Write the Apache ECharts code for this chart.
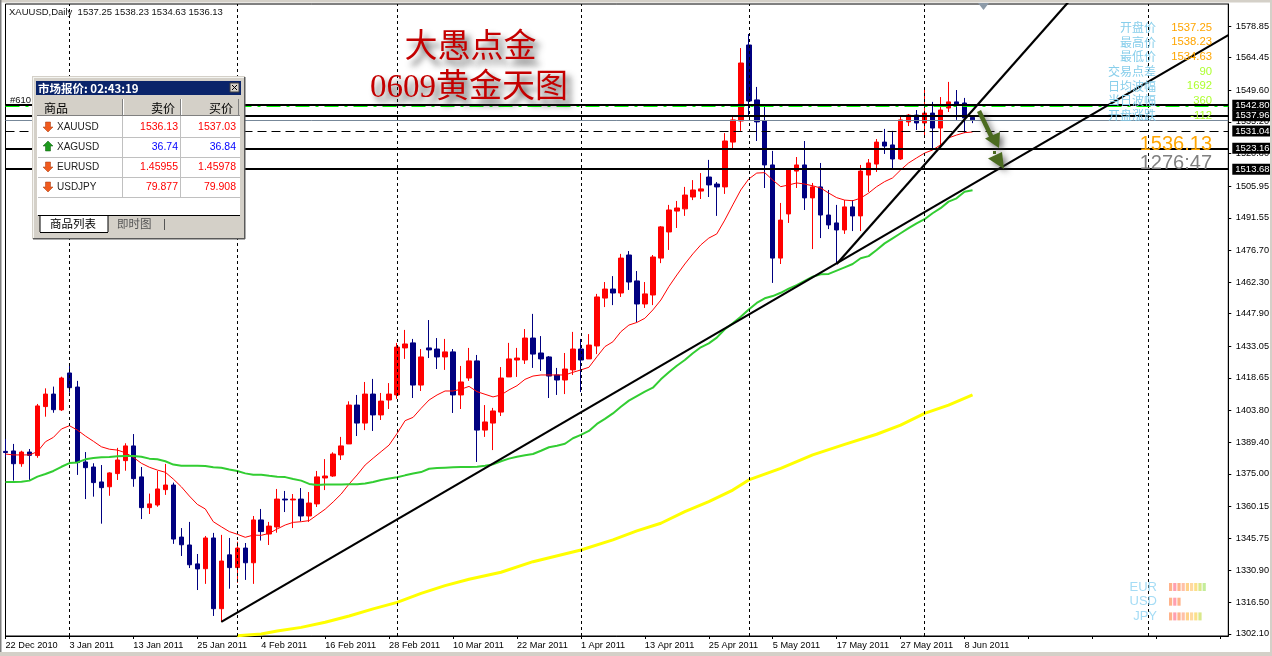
<!DOCTYPE html>
<html><head><meta charset="utf-8">
<script src="https://cdn.jsdelivr.net/npm/echarts@6/dist/echarts.min.js"></script>
<style>html,body{margin:0;padding:0;background:#fff}#c{width:1272px;height:656px}</style>
</head><body><div id="c"></div>
<script>
const dates=['22 Dec 2010','23 Dec 2010','24 Dec 2010','27 Dec 2010','28 Dec 2010','29 Dec 2010','30 Dec 2010','31 Dec 2010',
'3 Jan 2011','4 Jan 2011','5 Jan 2011','6 Jan 2011','7 Jan 2011','10 Jan 2011','11 Jan 2011','12 Jan 2011',
'13 Jan 2011','14 Jan 2011','17 Jan 2011','18 Jan 2011','19 Jan 2011','20 Jan 2011','21 Jan 2011','24 Jan 2011',
'25 Jan 2011','26 Jan 2011','27 Jan 2011','28 Jan 2011','31 Jan 2011','1 Feb 2011','2 Feb 2011','3 Feb 2011',
'4 Feb 2011','7 Feb 2011','8 Feb 2011','9 Feb 2011','10 Feb 2011','11 Feb 2011','14 Feb 2011','15 Feb 2011',
'16 Feb 2011','17 Feb 2011','18 Feb 2011','21 Feb 2011','22 Feb 2011','23 Feb 2011','24 Feb 2011','25 Feb 2011',
'28 Feb 2011','1 Mar 2011','2 Mar 2011','3 Mar 2011','4 Mar 2011','7 Mar 2011','8 Mar 2011','9 Mar 2011',
'10 Mar 2011','11 Mar 2011','14 Mar 2011','15 Mar 2011','16 Mar 2011','17 Mar 2011','18 Mar 2011','21 Mar 2011',
'22 Mar 2011','23 Mar 2011','24 Mar 2011','25 Mar 2011','28 Mar 2011','29 Mar 2011','30 Mar 2011','31 Mar 2011',
'1 Apr 2011','4 Apr 2011','5 Apr 2011','6 Apr 2011','7 Apr 2011','8 Apr 2011','11 Apr 2011','12 Apr 2011',
'13 Apr 2011','14 Apr 2011','15 Apr 2011','18 Apr 2011','19 Apr 2011','20 Apr 2011','21 Apr 2011','22 Apr 2011',
'25 Apr 2011','26 Apr 2011','27 Apr 2011','28 Apr 2011','29 Apr 2011','2 May 2011','3 May 2011','4 May 2011',
'5 May 2011','6 May 2011','9 May 2011','10 May 2011','11 May 2011','12 May 2011','13 May 2011','16 May 2011',
'17 May 2011','18 May 2011','19 May 2011','20 May 2011','23 May 2011','24 May 2011','25 May 2011','26 May 2011',
'27 May 2011','30 May 2011','31 May 2011','1 Jun 2011','2 Jun 2011','3 Jun 2011','6 Jun 2011','7 Jun 2011',
'8 Jun 2011','9 Jun 2011'];
const futureSlots=32;
const opens=[1385.2,1385.4,1379.6,1384.9,1383.3,1405.6,1411.3,1404.1,1420.9,1414.5,
1380.4,1378.1,1371.3,1369.1,1375.1,1381.0,1387.7,1373.6,1359.6,1360.8,
1367.8,1369.9,1346.2,1342.6,1334.0,1331.8,1345.8,1313.6,1338.1,1332.3,
1341.2,1334.5,1354.0,1347.6,1350.8,1363.5,1363.1,1363.5,1355.8,1361.3,
1373.1,1374.0,1383.6,1388.6,1406.3,1398.1,1411.3,1401.8,1408.6,1410.9,
1432.3,1434.6,1415.4,1432.3,1431.8,1428.2,1430.5,1410.9,1418.6,1426.4,
1394.9,1398.1,1403.1,1419.1,1426.8,1426.8,1436.8,1430.0,1428.2,1420.0,
1417.7,1422.3,1431.8,1427.3,1433.2,1455.0,1459.1,1457.3,1474.6,1462.8,
1452.3,1456.4,1473.2,1485.1,1494.6,1495.6,1501.0,1503.7,1510.1,1506.9,
1505.6,1526.0,1535.6,1570.2,1545.2,1535.6,1515.6,1473.2,1493.3,1512.8,
1515.6,1500.6,1505.6,1492.8,1489.2,1486.0,1496.5,1492.4,1511.0,1516.0,
1526.0,1524.7,1518.3,1535.2,1538.3,1534.7,1539.2,1532.4,1541.5,1544.3,
1543.8,1537.25];
const closes=[1384.7,1379.6,1384.9,1383.4,1405.9,1411.3,1404.2,1418.6,1414.2,1380.1,
1377.8,1371.0,1368.7,1375.4,1381.3,1387.7,1372.8,1359.6,1361.3,1368.1,
1369.9,1345.3,1342.7,1333.6,1331.7,1345.8,1313.6,1335.3,1332.3,1341.2,
1334.5,1354.0,1348.7,1351.2,1363.5,1363.1,1363.5,1355.8,1361.7,1373.6,
1374.0,1384.0,1387.7,1406.3,1398.1,1411.3,1401.8,1408.1,1411.3,1432.7,
1434.1,1415.4,1428.2,1431.4,1428.2,1430.5,1410.9,1416.8,1426.4,1394.9,
1398.6,1403.6,1418.6,1427.3,1427.7,1436.8,1429.5,1427.3,1419.5,1417.7,
1422.7,1431.8,1426.8,1433.6,1455.5,1459.1,1457.3,1473.2,1462.3,1452.3,
1456.9,1473.7,1487.4,1495.1,1496.0,1501.9,1504.2,1504.7,1506.5,1505.6,
1526.5,1536.1,1562.0,1544.7,1535.2,1515.6,1473.2,1490.5,1513.8,1515.6,
1500.6,1505.6,1492.8,1488.3,1486.0,1496.5,1492.4,1512.8,1516.5,1526.0,
1524.2,1518.3,1536.1,1538.3,1534.7,1539.2,1532.4,1540.6,1544.3,1543.3,
1537.0,1536.13];
const highs=[1390.9,1388.6,1385.5,1386.3,1406.8,1413.9,1414.7,1419.2,1425.0,1417.3,
1384.9,1379.8,1379.0,1375.7,1386.8,1388.9,1393.1,1378.1,1366.0,1376.3,
1379.5,1371.0,1350.3,1353.1,1338.5,1346.7,1348.1,1347.2,1345.8,1344.1,
1343.5,1355.8,1359.0,1353.1,1368.1,1367.2,1365.8,1368.5,1366.7,1376.3,
1381.7,1384.8,1391.8,1408.0,1410.9,1416.8,1418.2,1411.8,1416.3,1434.6,
1440.5,1436.4,1431.8,1445.0,1436.8,1436.4,1431.8,1424.1,1432.3,1429.1,
1406.3,1405.0,1423.6,1434.6,1432.3,1440.9,1447.8,1437.7,1428.6,1423.2,
1430.0,1439.6,1436.4,1438.6,1456.9,1462.3,1465.0,1475.1,1476.4,1467.3,
1462.3,1474.6,1487.8,1497.4,1499.2,1505.6,1508.7,1511.9,1517.9,1507.8,
1530.1,1538.3,1568.8,1575.2,1551.1,1542.4,1522.0,1498.3,1513.8,1519.2,
1526.5,1507.4,1516.5,1504.2,1497.4,1499.6,1499.6,1515.6,1518.3,1527.4,
1532.0,1531.1,1537.9,1538.8,1540.6,1550.2,1544.3,1546.5,1553.4,1549.7,
1546.1,1538.23];
const lows=[1382.7,1371.9,1378.2,1371.7,1382.3,1401.0,1402.8,1403.6,1411.9,1374.5,
1363.5,1364.6,1352.3,1365.0,1372.2,1376.4,1369.1,1354.4,1356.7,1360.0,
1365.4,1343.1,1337.6,1332.1,1322.1,1324.9,1310.3,1307.6,1322.7,1325.4,
1326.7,1324.9,1344.6,1342.6,1348.2,1357.6,1350.3,1353.4,1353.1,1359.9,
1367.6,1373.6,1381.3,1388.6,1392.2,1394.9,1394.5,1399.5,1404.5,1409.1,
1427.3,1409.5,1412.7,1427.7,1422.7,1422.3,1402.7,1404.5,1417.3,1380.4,
1391.8,1385.8,1401.3,1419.1,1419.1,1425.0,1423.2,1421.8,1409.5,1410.9,
1411.3,1420.0,1412.2,1427.3,1429.5,1450.9,1451.8,1455.5,1458.7,1444.1,
1450.5,1451.8,1470.9,1476.9,1486.9,1492.4,1499.6,1500.1,1501.0,1492.4,
1502.4,1523.3,1531.1,1537.9,1526.5,1505.1,1461.9,1470.5,1489.2,1505.1,
1495.1,1477.3,1482.3,1486.4,1470.5,1484.2,1485.5,1485.5,1503.3,1512.4,
1520.6,1514.2,1517.9,1533.3,1531.5,1528.8,1523.3,1523.3,1539.7,1536.1,
1530.1,1534.63];
const maFast=[1384.0,1383.6,1383.6,1383.6,1385.1,1389.6,1391.6,1395.4,1396.9,1394.9,
1392.2,1389.8,1387.3,1386.2,1385.8,1384.6,1382.5,1379.8,1378.0,1376.7,
1375.7,1372.6,1369.1,1364.9,1361.1,1359.0,1353.2,1350.9,1348.7,1347.5,
1346.1,1347.1,1347.0,1347.9,1349.9,1351.7,1352.9,1353.2,1353.7,1356.3,
1358.9,1362.2,1365.8,1370.4,1374.5,1379.0,1382.1,1385.1,1388.1,1393.4,
1399.2,1400.7,1404.8,1408.6,1410.9,1412.7,1412.7,1413.5,1414.8,1412.4,
1411.2,1410.0,1410.9,1413.2,1415.1,1418.0,1419.5,1420.0,1420.0,1420.0,
1420.0,1421.2,1422.3,1423.5,1428.3,1432.9,1435.1,1439.7,1442.7,1443.9,
1445.8,1449.6,1454.1,1460.2,1465.5,1470.5,1475.1,1479.2,1482.3,1484.2,
1490.5,1497.4,1504.2,1509.2,1511.9,1512.1,1508.7,1505.7,1506.5,1507.4,
1506.9,1506.1,1505.1,1502.8,1500.7,1499.6,1499.3,1500.5,1502.8,1505.7,
1508.0,1509.7,1513.3,1516.5,1518.8,1521.0,1522.4,1524.7,1527.9,1529.2,
1530.3,1530.6];
const maMid=[1371.3,1371.3,1371.4,1371.9,1373.7,1374.9,1376.3,1378.2,1379.9,1380.2,
1381.6,1382.2,1382.5,1382.7,1383.0,1383.1,1383.1,1382.8,1381.9,1381.6,
1380.7,1379.2,1378.7,1378.7,1378.7,1378.6,1378.0,1377.8,1377.0,1376.3,
1375.2,1374.6,1374.6,1374.1,1373.7,1373.5,1372.6,1371.9,1370.4,1369.9,
1370.1,1370.1,1370.1,1370.2,1370.2,1370.6,1371.3,1372.2,1372.9,1373.4,
1374.3,1375.1,1375.8,1377.3,1377.6,1377.8,1378.0,1378.1,1378.1,1378.2,
1378.7,1379.3,1380.7,1381.9,1382.8,1383.4,1384.0,1385.5,1387.1,1387.8,
1388.7,1391.2,1392.7,1394.5,1397.7,1400.0,1402.5,1405.5,1408.3,1410.4,
1412.4,1414.2,1418.0,1421.2,1424.2,1426.8,1429.9,1432.6,1434.4,1437.0,
1440.8,1443.5,1446.5,1449.8,1452.8,1454.9,1455.9,1457.4,1459.3,1460.9,
1462.8,1464.7,1465.8,1466.0,1467.5,1469.0,1470.5,1473.1,1474.1,1476.9,
1479.9,1482.2,1484.5,1486.8,1489.0,1490.9,1493.6,1495.9,1498.9,1500.4,
1503.4,1504.1];
const maSlowBars=[29,32,34,37,40,43,46,49,52,55,58,62,66,72,76,79,82,85,88,91,93,97,101,105,109,112,115,118,121];
const maSlowVals=[1301.3,1302.1,1303.4,1305.1,1307.4,1310.3,1313.5,1316.5,1320.6,1324.1,1327.0,1330.2,1335.0,1340.3,1344.9,1349.0,1352.5,1357.8,1362.3,1367.6,1372.2,1377.5,1383.6,1388.4,1393.0,1397.2,1402.5,1406.3,1410.9];
const trendA=[[27,1307.6],[153,1574.7]];
const trendB=[[104,1470.5],[134,1593.9]];
const monthBars=[8,29,49,72,93,115,143];
const levels=[1542.80,1537.96,1523.16,1513.68];
const dashLevel=1531.04;
const greenLevel=1542.4;
const bidLevel=1536.13;
const yTicks=[1578.85,1564.45,1549.60,1535.20,1520.80,1505.95,1491.55,1476.70,1462.30,1447.90,1433.05,1418.65,1403.80,1389.40,1375.00,1360.15,1345.75,1330.90,1316.50,1302.10];
const yMin=1301.17,yMax=1588.86;
const headerText='XAUUSD,Daily  1537.25 1538.23 1534.63 1536.13';
const quoteSymbols=['XAUUSD','XAGUSD','EURUSD','USDJPY'];
const quoteBids=['1536.13','36.74','1.45955','79.877'];
const quoteAsks=['1537.03','36.84','1.45978','79.908'];
const quoteUp=[false,true,false,false];
const infoLabels=['开盘价','最高价','最低价','交易点差','日均波幅','当日波幅','开盘涨跌'];
const infoValues=['1537.25','1538.23','1534.63','90','1692','360','-112'];
const strengthNames=['EUR','USD','JPY'];
const strengthBlocks=[9,3,8];

const SANS='"Liberation Sans",Arial,sans-serif', CJK='"Noto Sans CJK SC",sans-serif', SERIF='"Liberation Serif","Noto Sans CJK SC",serif';
const chart=echarts.init(document.getElementById('c'),null,{renderer:'canvas'});
const g=[];
function rect(x,y,w,h,fill,extra){g.push({type:'rect',z:100,silent:true,shape:{x,y,width:w,height:h},style:Object.assign({fill},extra||{})});}
function poly(pts,fill,extra){g.push({type:'polygon',z:100,silent:true,shape:{points:pts},style:Object.assign({fill},extra||{})});}
function line(x1,y1,x2,y2,c,w){g.push({type:'line',z:101,silent:true,shape:{x1,y1,x2,y2},style:{stroke:c,lineWidth:w||1}});}
function txt(x,y,t,o){g.push({type:'text',z:102,silent:true,x,y,style:Object.assign({text:t,fill:'#000',font:'11px '+SANS,align:'left',verticalAlign:'middle'},o||{})});}

// outer terminal frame
rect(0,0,1272,2.5,'#d4d0c8');rect(0,0,1.5,656,'#808080');rect(0,652,1272,4,'#d4d0c8');rect(1270,0,2,656,'#d4d0c8');

// header + chart id
txt(9,12,headerText,{font:'9.5px '+SANS,fill:'#111'});
txt(10,100,'#610',{font:'9.5px '+SANS,fill:'#111'});

// title
const shadow={textShadowColor:'rgba(50,50,50,0.8)',textShadowBlur:6,textShadowOffsetX:5,textShadowOffsetY:6};
txt(470.5,48,'大愚点金',Object.assign({font:'33px '+SERIF,fill:'#c40000',align:'center'},shadow));
txt(469,88,'0609黄金天图',Object.assign({font:'33px '+SERIF,fill:'#c40000',align:'center'},shadow));

// arrows
const arrowFx={shadowColor:'rgba(60,60,60,0.7)',shadowBlur:6,shadowOffsetX:3,shadowOffsetY:3};
poly([[977,112],[981,110],[995,139],[991,141]],'#4b6b20',arrowFx);
poly([[985,138.5],[1000,132],[999,148]],'#4b6b20',arrowFx);
poly([[993,151],[996,151],[996,154],[993,154]],'#4b6b20',arrowFx);
poly([[988,158.5],[1002,152],[1004,169]],'#4b6b20',arrowFx);
// shift marker
poly([[978,3],[989,3],[983.5,10]],'#8c9aa8');

// info panel
infoLabels.forEach((t,i)=>{const y=27.5+i*14.65;
  txt(1156,y,t,{font:'12px '+CJK,fill:'#87ceeb',align:'right'});
  txt(1212,y,infoValues[i],{font:'11.3px '+SANS,fill:i<3?'#ffa500':'#adff2f',align:'right'});
});
txt(1212,144,'1536.13',{font:'20px '+SANS,fill:'#ffa500',align:'right'});
txt(1212,163,'1276:47',{font:'20px '+SANS,fill:'#808080',align:'right'});

// currency strength
const blockCols=['#ffb38a','#ff9fb0','#ffb38a','#ffc0a8','#ffd28a','#ffd9a0','#fbe08a','#d9e88a','#c4ec9a'];
strengthNames.forEach((n,i)=>{const y=587+i*14.7;
  txt(1157,y,n,{font:'13px '+SANS,fill:'#a5dcf5',align:'right'});
  for(let b=0;b<strengthBlocks[i];b++) rect(1169+b*4.2,y-4,3.2,8,blockCols[b]);
});

// market watch window
rect(32,76,213,163,'#d4d0c8',{stroke:null});
rect(244,77,1.5,162,'#5a5a5a');rect(33,238,212,1.5,'#5a5a5a');
rect(33,77,1,161,'#f4f4f0');rect(33,77,211,1,'#f4f4f0');
rect(36,81,205,14,'#0a246a');
txt(38,88.2,'市场报价: 02:43:19',{font:'bold 11.5px '+CJK,fill:'#fff'});
rect(230,83,9,9,'#d4d0c8',{stroke:'#404040',lineWidth:1});
line(232,85,237,90,'#000');line(237,85,232,90,'#000');
rect(37,99,203,116,'#fff');
rect(37,99,203,17,'#d4d0c8');
line(37,115.5,240,115.5,'#808080',1);
[122.5,180.5,238.5].forEach(x=>{line(x,99,x,115,'#808080',1);});
[123,181].forEach(x=>line(x+.5,99,x+.5,115,'#fff',1));
txt(44,108,'商品',{font:'12px '+CJK});
txt(175,108,'卖价',{font:'12px '+CJK,align:'right'});
txt(233,108,'买价',{font:'12px '+CJK,align:'right'});
quoteSymbols.forEach((s,i)=>{const y=127+i*20,col=quoteUp[i]?'#0000ff':'#ff0000';
  txt(57,y,s,{font:'10px '+SANS,fill:'#222'});
  txt(178,y,quoteBids[i],{font:'10.5px '+SANS,fill:col,align:'right'});
  txt(236,y,quoteAsks[i],{font:'10.5px '+SANS,fill:col,align:'right'});
  line(38,y+10.5,240,y+10.5,'#c0c0c0',1);
  if(quoteUp[i]) poly([[48,y-6],[53,y-1],[50.5,y-1],[50.5,y+4],[45.5,y+4],[45.5,y-1],[43,y-1]],'#1e9a1e',{stroke:'#0b5a0b',lineWidth:.5});
  else poly([[48,y+5],[53,y],[50.5,y],[50.5,y-5],[45.5,y-5],[45.5,y],[43,y]],'#f05a1e',{stroke:'#a03a10',lineWidth:.5});
});
[122.5,180.5].forEach(x=>line(x,116,x,197,'#c0c0c0',1));
rect(38,215,203,20,'#d4d0c8');
line(38,215.5,240,215.5,'#000',1);
rect(40,215,68,17,'#fff');
line(40,215,40,232,'#000',1);line(40,232.5,108,232.5,'#000',1);line(108,216,108,232,'#000',1);
txt(50,224,'商品列表',{font:'11.5px '+CJK});
txt(117,224,'即时图',{font:'11.5px '+CJK,fill:'#555'});
line(164.5,219,164.5,230,'#555',1);

const tag=v=>({show:true,position:'end',distance:4,formatter:()=>v.toFixed(2),color:'#fff',backgroundColor:'#000',fontFamily:'"Liberation Sans"',fontSize:9.5,padding:[0,2,0,3],lineHeight:11});
chart.setOption({
  animation:false,
  backgroundColor:'#fff',
  grid:{left:5.5,right:42,top:4,bottom:20,show:true,backgroundColor:'#fff',borderColor:'#000',borderWidth:1},
  xAxis:{type:'category',boundaryGap:false,data:dates.concat(new Array(futureSlots).fill('')),
    axisLine:{lineStyle:{color:'#000'}},
    axisTick:{interval:7,length:3,lineStyle:{color:'#000'}},
    axisLabel:{interval:7,align:'left',margin:5,color:'#000',fontFamily:'"Liberation Sans"',fontSize:9.2,hideOverlap:false},
    splitLine:{show:false}},
  yAxis:{type:'value',position:'right',min:yMin,max:yMax,
    axisLine:{show:true,lineStyle:{color:'#000'}},
    axisTick:{show:true,length:3,customValues:yTicks,lineStyle:{color:'#000'}},
    axisLabel:{customValues:yTicks,margin:7.5,color:'#000',fontFamily:'"Liberation Sans"',fontSize:9.2,formatter:v=>v.toFixed(2)},
    splitLine:{show:false}},
  series:[
    {type:'candlestick',barWidth:5,z:2,
     data:opens.map((o,i)=>[o,closes[i],lows[i],highs[i]]),
     itemStyle:{color:'#ff0000',color0:'#000080',borderColor:'#ff0000',borderColor0:'#000080',borderWidth:1}},
    {type:'line',z:3,data:maFast,symbol:'none',lineStyle:{color:'#ff0000',width:1}},
    {type:'line',z:3,data:maMid,symbol:'none',lineStyle:{color:'#32cd32',width:2}},
    {type:'line',z:3,data:maSlowBars.map((b,i)=>[b,maSlowVals[i]]),symbol:'none',lineStyle:{color:'#ffff00',width:3}},
    {type:'line',z:5,data:trendA,symbol:'none',lineStyle:{color:'#000',width:2.2}},
    {type:'line',z:5,data:trendB,symbol:'none',lineStyle:{color:'#000',width:2.2}},
    {type:'line',z:4,data:[],markLine:{silent:true,symbol:'none',animation:false,label:{show:false},
      lineStyle:{color:'#000',type:[3,3],width:1},
      data:monthBars.map(b=>({xAxis:b}))}},
    {type:'line',z:5,data:[],markLine:{silent:true,symbol:'none',animation:false,
      data:[
        {yAxis:greenLevel,lineStyle:{color:'#00ff00',type:[14,6,3,6],width:2},label:{show:false}},
        {yAxis:bidLevel,lineStyle:{color:'#778899',type:'solid',width:1},label:{show:false}},
        {yAxis:dashLevel,lineStyle:{color:'#000',type:[9,5],width:1},label:tag(dashLevel)},
        ...levels.map(v=>({yAxis:v,lineStyle:{color:'#000',type:'solid',width:2},label:tag(v)}))
      ]}}
  ],
  graphic:g
});
</script></body></html>
